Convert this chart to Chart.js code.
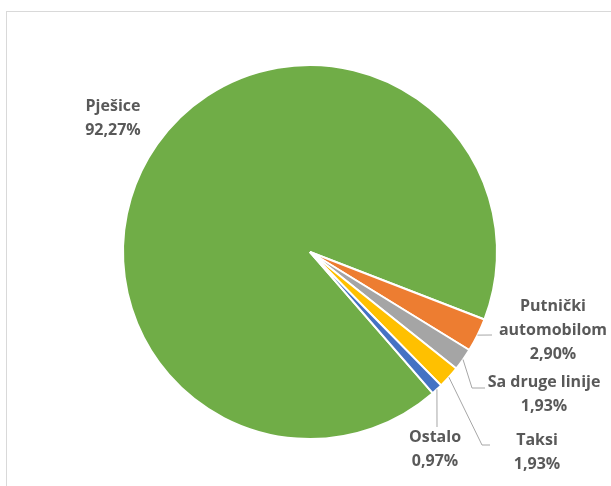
<!DOCTYPE html>
<html>
<head>
<meta charset="utf-8">
<script src="https://cdn.jsdelivr.net/npm/chart.js@4"></script>
<style>
  html, body { margin: 0; padding: 0; background: #ffffff; }
  #wrap { position: relative; width: 611px; height: 486px; overflow: hidden; }
  #frame {
    position: absolute; left: 6px; top: 11px; width: 700px; height: 600px;
    border-left: 1px solid #d9d9d9; border-top: 1px solid #d9d9d9;
  }
  canvas { position: absolute; left: 0; top: 0; }
</style>
</head>
<body>
<div id="wrap">
  <div id="frame"></div>
  <canvas id="chart" width="611" height="486"></canvas>
</div>
<script>
const CATEGORIES = ["Pješice", "Putnički automobilom", "Sa druge linije", "Taksi", "Ostalo"];
const SHARES = [92.27, 2.90, 1.93, 1.93, 0.97];
const SLICE_COLORS = ["#70ad47", "#ed7d31", "#a5a5a5", "#ffc000", "#4472c4"];

/* where each label sits and how its leader line bends (label layout only) */
const LABEL_LAYOUT = [
  { x: 113, y: 106, lines: ["Pješice"], leader: null },
  { x: 553, y: 306, lines: ["Putnički", "automobilom"], leader: [[492, 335]] },
  { x: 544, y: 382, lines: ["Sa druge linije"], leader: [[472, 388], [485, 388]] },
  { x: 537, y: 440, lines: ["Taksi"], leader: [[482, 445], [490, 445]] },
  { x: 435, y: 437, lines: ["Ostalo"], leader: [[437, 427]] },
];

const LABEL_FONT = "700 16px 'Open Sans', sans-serif";
const LABEL_INK = "#595959";
const LINE_GAP = 24;

function pct(v) {
  return v.toFixed(2).replace(".", ",") + "%";
}

/** Excel-style outside labels with gray leader lines. */
const sliceLabelsPlugin = {
  id: "sliceLabels",
  afterDatasetsDraw(chart) {
    const { ctx } = chart;
    const meta = chart.getDatasetMeta(0);
    const values = chart.data.datasets[0].data;
    ctx.save();
    meta.data.forEach((arc, i) => {
      const cfg = LABEL_LAYOUT[i];
      if (!cfg) {
        return;
      }
      if (cfg.leader) {
        const { x, y, startAngle, endAngle, outerRadius } = arc.getProps(
          ["x", "y", "startAngle", "endAngle", "outerRadius"], true);
        const mid = (startAngle + endAngle) / 2;
        ctx.beginPath();
        ctx.moveTo(x + Math.cos(mid) * outerRadius, y + Math.sin(mid) * outerRadius);
        cfg.leader.forEach(([px, py]) => ctx.lineTo(px, py));
        ctx.strokeStyle = "#a6a6a6";
        ctx.lineWidth = 1;
        ctx.stroke();
      }
      ctx.font = LABEL_FONT;
      ctx.fillStyle = LABEL_INK;
      ctx.textAlign = "center";
      ctx.textBaseline = "middle";
      const lines = cfg.lines.concat([pct(values[i])]);
      lines.forEach((t, k) => ctx.fillText(t, cfg.x, cfg.y + k * LINE_GAP));
    });
    ctx.restore();
  },
};

new Chart(document.getElementById("chart"), {
  type: "pie",
  data: {
    labels: CATEGORIES,
    datasets: [
      {
        data: SHARES,
        backgroundColor: SLICE_COLORS,
        borderColor: "#ffffff",
        borderWidth: 2,
      },
    ],
  },
  options: {
    responsive: false,
    animation: false,
    rotation: 139,
    layout: { padding: { left: 122, right: 113, top: 64, bottom: 46 } },
    plugins: {
      legend: { display: false },
      tooltip: { enabled: false },
    },
  },
  plugins: [sliceLabelsPlugin],
});
</script>
</body>
</html>
